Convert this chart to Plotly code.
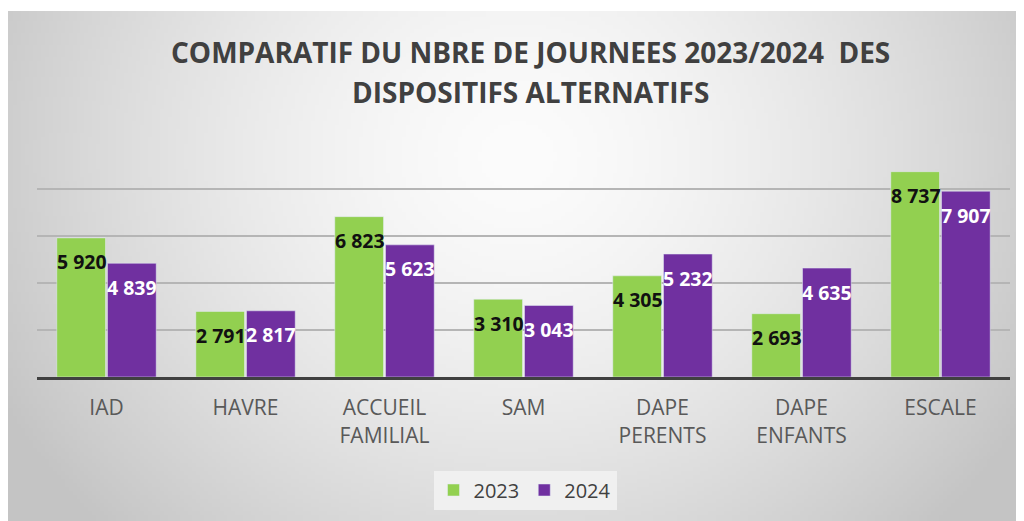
import base64, struct, zlib
import numpy as np
import plotly.graph_objects as go

categories = ["IAD", "HAVRE", "ACCUEIL<br>FAMILIAL", "SAM", "DAPE<br>PERENTS", "DAPE<br>ENFANTS", "ESCALE"]
values_2023 = [5920, 2791, 6823, 3310, 4305, 2693, 8737]
values_2024 = [4839, 2817, 5623, 3043, 5232, 4635, 7907]
series_names = ["2023", "2024"]
grid_ticks = [2000, 4000, 6000, 8000]
title_lines = ["COMPARATIF DU NBRE DE JOURNEES 2023/2024  DES", "DISPOSITIFS ALTERNATIFS"]


def fmt(v):
    return f"{v:,}".replace(",", " ")


# --- radial gradient background as PNG data URI ---
W, H = 256, 128
yy, xx = np.mgrid[0:H, 0:W]
cx, cy = 0.5 * W, 0.28 * H
r = np.sqrt(((xx - cx) / (0.55 * W)) ** 2 + ((yy - cy) / (1.0 * H)) ** 2)
val = np.clip(252 - 52 * r ** 1.5, 196, 252).astype(np.uint8)
raw = b"".join(b"\x00" + bytes(np.repeat(row, 3)) for row in val)


def chunk(t, d):
    c = struct.pack(">I", len(d)) + t + d
    return c + struct.pack(">I", zlib.crc32(t + d) & 0xffffffff)


png = b"\x89PNG\r\n\x1a\n" + chunk(b"IHDR", struct.pack(">IIBBBBB", W, H, 8, 2, 0, 0, 0)) \
    + chunk(b"IDAT", zlib.compress(raw)) + chunk(b"IEND", b"")
uri = "data:image/png;base64," + base64.b64encode(png).decode()

# page offset (default body margin) compensation
OFF = 8
FW, FH = 1024 - OFF, 521 - OFF
# plot area in page pixels
L, R, T, B = 37 - OFF, 1010 - OFF, 142 - OFF, 377 - OFF
pw, ph = R - L, B - T


def px(X):
    return (X - OFF - L) / pw


def py(Y):
    return (B - (Y - OFF)) / ph


fig = go.Figure()
fig.add_bar(x=categories, y=values_2023, name=series_names[0], marker_color="#92D050")
fig.add_bar(x=categories, y=values_2024, name=series_names[1], marker_color="#7030A0")

annotations = []
for c, v in zip(categories, values_2023):
    annotations.append(dict(x=c, y=v, xref="x", yref="y", text=fmt(v), showarrow=False,
                            xshift=-25, yshift=-24, yanchor="middle",
                            font=dict(family="Open Sans", size=19.5, color="#111111", weight="bold")))
for c, v in zip(categories, values_2024):
    annotations.append(dict(x=c, y=v, xref="x", yref="y", text=fmt(v), showarrow=False,
                            xshift=25, yshift=-24, yanchor="middle",
                            font=dict(family="Open Sans", size=19.5, color="#ffffff", weight="bold")))

for line, yc in zip(title_lines, [52, 92]):
    annotations.append(dict(text=line, xref="paper", yref="paper", x=px(530), y=py(yc),
                            showarrow=False, xanchor="center", yanchor="middle",
                            font=dict(family="Open Sans", size=28, color="#404040", weight="bold")))

fig.update_layout(
    width=FW, height=FH,
    margin=dict(l=L, r=FW - R, t=T, b=FH - B),
    paper_bgcolor="#ffffff", plot_bgcolor="rgba(0,0,0,0)",
    barmode="group", bargap=0.27, bargroupgap=0.04,
    showlegend=True,
    legend=dict(orientation="h", x=px(525), y=py(490), xanchor="center", yanchor="middle",
                bgcolor="rgba(242,242,242,0.9)", font=dict(family="Open Sans", size=20, color="#404040"),
                itemwidth=30, traceorder="normal"),
    annotations=annotations,
    images=[dict(source=uri, xref="paper", yref="paper", x=px(7), y=py(11),
                 sizex=(1024 - 7) / pw, sizey=(521 - 11) / ph, sizing="stretch",
                 xanchor="left", yanchor="top", layer="below")],
)
fig.update_xaxes(showline=True, linecolor="#404040", linewidth=3, ticks="outside", ticklen=10,
                 tickcolor="rgba(0,0,0,0)",
                 tickfont=dict(family="Open Sans", size=21, color="#595959"))
fig.update_yaxes(range=[0, 10000], tickvals=grid_ticks, showticklabels=False, showgrid=True,
                 gridcolor="#b5b5b5", gridwidth=1.5, zeroline=False)

fig.write_html("out.html")
